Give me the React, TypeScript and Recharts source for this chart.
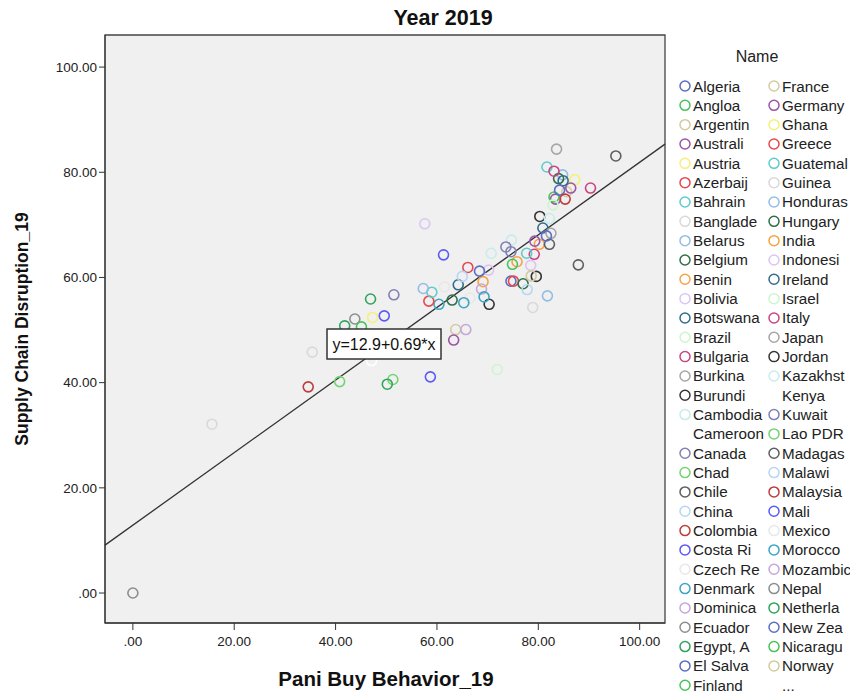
import React from 'react'
import {
  ScatterChart,
  Scatter,
  XAxis,
  YAxis,
  CartesianGrid,
  ReferenceLine,
  ReferenceArea,
  Cell,
} from 'recharts'

// countries in file order (colour = SPSS palette, cycles every 30)
const countries = [
  'Algeria', 'Angloa', 'Argentina', 'Australia', 'Austria', 'Azerbaijan', 'Bahrain', 'Bangladesh',
  'Belarus', 'Belgium', 'Benin', 'Bolivia', 'Botswana', 'Brazil', 'Bulgaria', 'Burkina Faso',
  'Burundi', 'Cambodia', 'Cameroon', 'Canada', 'Chad', 'Chile', 'China', 'Colombia',
  'Costa Rica', 'Czech Republic', 'Denmark', 'Dominican Republic', 'Ecuador', 'Egypt, Arab Rep.',
  'El Salvador', 'Finland', 'France', 'Germany', 'Ghana', 'Greece', 'Guatemala', 'Guinea',
  'Honduras', 'Hungary', 'India', 'Indonesia', 'Ireland', 'Israel', 'Italy', 'Japan',
  'Jordan', 'Kazakhstan', 'Kenya', 'Kuwait', 'Lao PDR', 'Madagascar', 'Malawi', 'Malaysia',
  'Mali', 'Mexico', 'Morocco', 'Mozambique', 'Nepal', 'Netherlands', 'New Zealand', 'Nicaragua',
  'Norway', 'Pakistan', 'Panama', 'Paraguay', 'Peru', 'Philippines', 'Poland', 'Portugal',
  'Qatar', 'Romania', 'Russian Federation', 'Rwanda', 'Saudi Arabia', 'Senegal', 'Serbia', 'Singapore',
  'Slovak Republic', 'South Africa', 'Spain', 'Sri Lanka', 'Sweden', 'Switzerland', 'Tanzania', 'Thailand',
  'Tunisia', 'Turkey', 'Uganda', 'Ukraine', 'United Kingdom', 'United States', 'Uruguay', 'Vietnam',
]

// Pani Buy Behavior_19
const panicBuy = [
  74.6, null, 63.7, 83.4, 87.2, 75.1, 81.7, 15.6,
  84.8, 77.0, 69.1, 70.2, 64.2, 71.9, 79.2, null,
  70.3, 70.7, 47.1, 51.5, 40.8, 95.3, 77.8, 34.6,
  61.3, 61.5, 60.4, 68.8, 0.0, 46.9,
  68.4, 83.1, 85.6, 86.4, 47.3, 66.1, 77.7, 78.9,
  81.8, 84.0, 75.8, 78.5, 84.9, 82.9, 83.1, 83.6,
  79.6, 74.7, null, 73.6, 51.3, 87.9, 65.0, null,
  58.7, 66.5, 69.3, 65.7, 43.8, 50.2, 84.2, 74.9,
  78.6, 63.3, null, 58.4, 59.0, 35.4, 57.3, 63.0,
  80.2, 57.6, 80.9, null, 90.3, 82.5, 80.3, 82.2,
  null, 74.6, null, 82.2, null, 85.3, 49.6, null,
  65.3, null, null, 41.8, 81.6, 45.1, null, 79.3,
]

// Supply Chain Disruption_19
const disruption = [
  59.3, null, 50.1, 74.9, 78.6, 59.3, 81.0, 32.1,
  79.5, 58.8, 59.2, 61.4, 58.6, 42.5, 64.4, null,
  54.9, 64.6, 44.2, 56.7, 40.2, 83.1, 57.7, 39.2,
  64.3, 58.2, 54.9, 57.8, 0.0, 55.9,
  61.2, 75.3, 76.3, 77.0, 52.4, 61.9, 64.6, 54.3,
  56.5, 78.8, 63.0, 62.3, 78.4, 73.8, 80.2, 84.4,
  60.2, 67.1, null, 65.8, 40.6, 62.4, 60.2, null,
  41.1, 56.1, 56.3, 50.1, 52.1, 39.7, 76.6, 62.5,
  60.3, 48.1, null, 55.5, 57.2, 45.8, 57.9, 55.7,
  66.3, 70.2, 69.4, null, 77.0, 68.4, 71.6, 71.2,
  null, 64.9, null, 66.3, null, 74.9, 52.7, null,
  55.2, null, null, 50.8, 67.9, 50.6, null, 66.9,
]

// legend shows the first 63 names (8-char SPSS labels), then "..."
const legendLabels = [
  'Algeria', 'Angloa', 'Argentin', 'Australi', 'Austria', 'Azerbaij', 'Bahrain', 'Banglade',
  'Belarus', 'Belgium', 'Benin', 'Bolivia', 'Botswana', 'Brazil', 'Bulgaria', 'Burkina',
  'Burundi', 'Cambodia', 'Cameroon', 'Canada', 'Chad', 'Chile', 'China', 'Colombia',
  'Costa Ri', 'Czech Re', 'Denmark', 'Dominica', 'Ecuador', 'Egypt, A', 'El Salva', 'Finland',
  'France', 'Germany', 'Ghana', 'Greece', 'Guatemal', 'Guinea', 'Honduras', 'Hungary',
  'India', 'Indonesi', 'Ireland', 'Israel', 'Italy', 'Japan', 'Jordan', 'Kazakhst',
  'Kenya', 'Kuwait', 'Lao PDR', 'Madagas', 'Malawi', 'Malaysia', 'Mali', 'Mexico',
  'Morocco', 'Mozambic', 'Nepal', 'Netherla', 'New Zea', 'Nicaragu', 'Norway', '...',
]

const xTicks = [0, 20, 40, 60, 80, 100]
const yTicks = [0, 20, 40, 60, 80, 100]
const fitIntercept = 12.9
const fitSlope = 0.69

const palette = [
  '#5a6ec4', '#48c35a', '#d3cb9f', '#9a55a8', '#f5f07a', '#e9474d', '#5ecccc', '#d9d9d9',
  '#94bde6', '#2f6f47', '#f5a343', '#dcc5f5', '#306d8b', '#cdf5cd', '#c9457f', '#a6a6a6',
  '#333333', '#c7ecec', '#ffffff', '#8081b6', '#74d474', '#5f5f5f', '#b6d6f5', '#c03c3c',
  '#5a5af5', '#e8e8e8', '#3ea5c5', '#c6a6dd', '#8d8d8d', '#2fa55b',
]

const X_DOMAIN: [number, number] = [-5.5, 105]
const Y_DOMAIN: [number, number] = [-5.7, 106.1]
const FONT = 'Arial, "Liberation Sans", sans-serif'

const data = countries
  .map((name, i) => ({ name, x: panicBuy[i], y: disruption[i], color: palette[i % 30] }))
  .filter(d => d.x !== null && d.y !== null)

const fmt = (v: number) => (v === 0 ? '.00' : v.toFixed(2))

const Ring = (p: any) => (
  <circle cx={p.cx} cy={p.cy} r={5} fill="none" stroke={p.fill} strokeWidth={1.6} />
)

const Legend = () => {
  const rows = 32
  return (
    <g fontFamily={FONT} fontSize={15.2} fill="#222">
      <text x={757} y={56} textAnchor="middle" dominantBaseline="central" fontSize={16}>Name</text>
      {legendLabels.map((label, i) => {
        const col = Math.floor(i / rows)
        const row = i % rows
        const cx = col === 0 ? 685 : 774
        const cy = 86 + row * 19.33
        const more = label === '...'
        return (
          <g key={label}>
            {!more && <circle cx={cx} cy={cy} r={5} fill="none" stroke={palette[i % 30]} strokeWidth={1.5} />}
            <text x={cx + 8} y={cy} dominantBaseline="central">{label}</text>
          </g>
        )
      })}
    </g>
  )
}

export default function App() {
  return (
    <div style={{ position: 'absolute', left: 0, top: 0, width: 850, height: 696, overflow: 'hidden', background: '#fff' }}>
      <ScatterChart width={850} height={696} margin={{ top: 35, right: 185, left: 45, bottom: 33 }}>
        <CartesianGrid fill="#f0f0f0" stroke="none" horizontal={false} vertical={false} />
        <XAxis
          type="number"
          dataKey="x"
          domain={X_DOMAIN}
          ticks={xTicks}
          allowDataOverflow
          tickFormatter={fmt}
          height={40}
          tickSize={7}
          tickMargin={6}
          stroke="#333"
          tick={{ fill: '#222', fontSize: 13.5, fontFamily: FONT }}
        />
        <YAxis
          type="number"
          dataKey="y"
          domain={Y_DOMAIN}
          ticks={yTicks}
          allowDataOverflow
          tickFormatter={fmt}
          width={60}
          tickSize={6}
          tickMargin={2}
          stroke="#333"
          tick={{ fill: '#222', fontSize: 13.5, fontFamily: FONT }}
        />
        <Scatter data={data} shape={Ring} isAnimationActive={false}>
          {data.map(d => (
            <Cell key={d.name} fill={d.color} />
          ))}
        </Scatter>
        <ReferenceLine
          segment={[
            { x: X_DOMAIN[0], y: fitIntercept + fitSlope * X_DOMAIN[0] },
            { x: X_DOMAIN[1], y: fitIntercept + fitSlope * X_DOMAIN[1] },
          ]}
          stroke="#333"
          strokeWidth={1.3}
          ifOverflow="visible"
        />
        <ReferenceArea
          x1={X_DOMAIN[0]}
          x2={X_DOMAIN[1]}
          y1={Y_DOMAIN[0]}
          y2={Y_DOMAIN[1]}
          fill="none"
          stroke="#444"
          strokeWidth={1.3}
          ifOverflow="visible"
        />
      </ScatterChart>
      <svg width={850} height={696} style={{ position: 'absolute', left: 0, top: 0, pointerEvents: 'none' }}>
        <text x={443} y={18} textAnchor="middle" dominantBaseline="central" fontFamily={FONT} fontWeight="bold" fontSize={21.5} fill="#111">
          Year 2019
        </text>
        <text x={386} y={678} textAnchor="middle" dominantBaseline="central" fontFamily={FONT} fontWeight="bold" fontSize={20.5} fill="#111">
          Pani Buy Behavior_19
        </text>
        <text
          x={22}
          y={329}
          textAnchor="middle"
          dominantBaseline="central"
          fontFamily={FONT}
          fontWeight="bold"
          fontSize={17.5}
          fill="#111"
          transform="rotate(-90 22 329)"
        >
          Supply Chain Disruption_19
        </text>
        <rect x={327} y={329} width={114} height={30} fill="#fff" stroke="#333" strokeWidth={1.5} />
        <text x={384} y={344.5} textAnchor="middle" dominantBaseline="central" fontFamily={FONT} fontSize={16} fill="#111">
          y=12.9+0.69*x
        </text>
        <Legend />
      </svg>
    </div>
  )
}
